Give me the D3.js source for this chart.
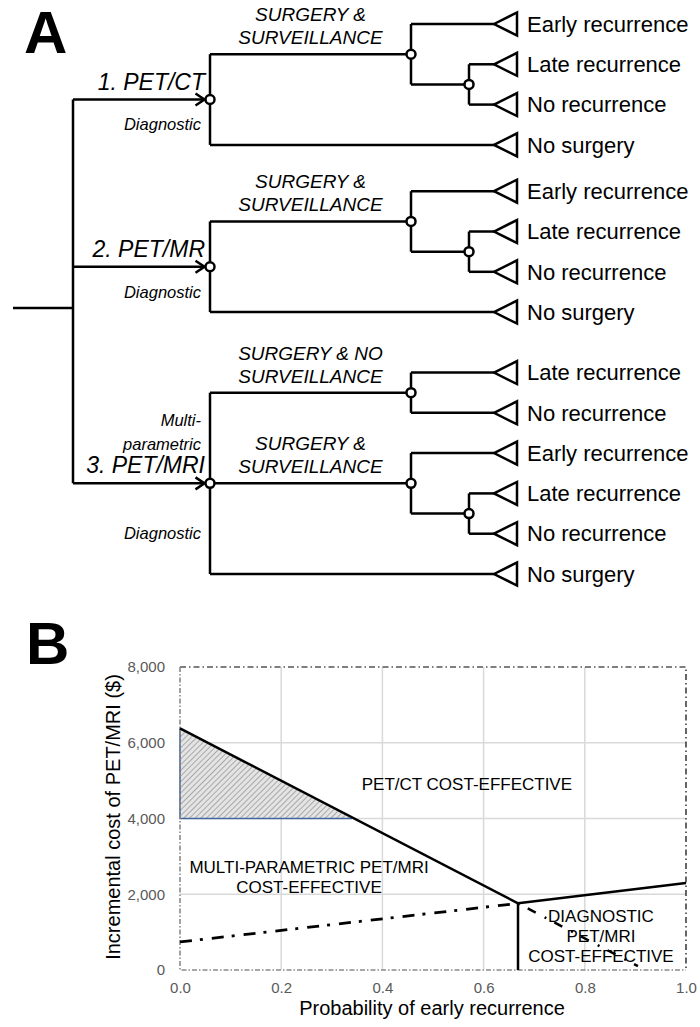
<!DOCTYPE html>
<html>
<head>
<meta charset="utf-8">
<script src="https://cdn.jsdelivr.net/npm/d3@7"></script>
<style>
  body { margin: 0; background: #fff; }
  text { font-family: "Liberation Sans", Arial, sans-serif; }
</style>
</head>
<body>
<svg id="fig" width="700" height="1027"></svg>
<script>
// ---------- panel A data ----------
const strategies = ["1. PET/CT", "2. PET/MR", "3. PET/MRI"];
const notesAbove = [[], [], ["Multi-", "parametric"]];
const notesBelow = [["Diagnostic"], ["Diagnostic"], ["Diagnostic"]];
const armLabels = [
  [["SURGERY &", "SURVEILLANCE"]],
  [["SURGERY &", "SURVEILLANCE"]],
  [["SURGERY & NO", "SURVEILLANCE"], ["SURGERY &", "SURVEILLANCE"]]
];
const armOutcomes = [
  [["Early recurrence", ["Late recurrence", "No recurrence"]]],
  [["Early recurrence", ["Late recurrence", "No recurrence"]]],
  [["Late recurrence", "No recurrence"], ["Early recurrence", ["Late recurrence", "No recurrence"]]]
];
const noSurgery = "No surgery";
// vertical slot of every terminal node, top to bottom
const leafRows = [0, 1, 2, 3, 4.15, 5.15, 6.15, 7.15, 8.65, 9.65, 10.65, 11.65, 12.65, 13.65];
const rootRow = 7.05;

// ---------- panel B data ----------
const xTicks = [0, 0.2, 0.4, 0.6, 0.8, 1.0];
const yTicks = [0, 2000, 4000, 6000, 8000];
const ctVsMulti = [[0, 6380], [0.668, 1760]];
const ctVsDiag = [[0.668, 1760], [1.0, 2300]];
const multiVsDiag = [[0.668, 1760], [0.668, 0]];
const dashDotLine = [[0, 740], [0.668, 1760]];
const dashedLine = [[0.668, 1760], [0.905, 100]];
const shaded = [[0, 6380], [0, 4000], [0.34, 4000]];
const regionText = [
  ["PET/CT COST-EFFECTIVE"],
  ["MULTI-PARAMETRIC PET/MRI", "COST-EFFECTIVE"],
  ["DIAGNOSTIC", "PET/MRI", "COST-EFFECTIVE"]
];
const regionAt = [[0.567, 4910], [0.255, 2455], [0.832, 900]];

const svg = d3.select("#fig");

// ================= A =================
svg.append("text").attr("x", 24).attr("y", 53)
  .style("font-size", "60px").style("font-weight", "bold").text("A");

function buildOutcome(o) {
  if (Array.isArray(o)) return { children: o.map(buildOutcome) };
  return { leaf: o };
}
const treeData = {
  children: strategies.map((s, i) => ({
    name: s, idx: i,
    children: armLabels[i].map((lab, j) => ({
      arm: lab,
      children: armOutcomes[i][j].map(buildOutcome)
    })).concat([{ leaf: noSurgery }])
  }))
};

const root = d3.hierarchy(treeData);
const rowY = d3.scaleLinear().domain([0, 13.65]).range([24, 574]);
const depthX = d3.scaleOrdinal().domain([0, 1, 2, 3]).range([73, 210, 411, 469]);
const tipX = 494;

root.leaves().forEach((l, i) => { l.y = rowY(leafRows[i]); });
root.eachAfter(n => {
  if (n.children) {
    n.y = (n.children[0].y + n.children[n.children.length - 1].y) / 2;
  }
  n.x = n.data.leaf ? tipX : depthX(n.depth);
});
root.y = rowY(rootRow);

const gA = svg.append("g")
  .attr("fill", "none").attr("stroke", "#000").attr("stroke-width", 2.5);

// root stub
gA.append("line").attr("x1", 13).attr("x2", root.x).attr("y1", root.y).attr("y2", root.y);

const nodeR = 4.5;
root.each(n => {
  if (!n.children) return;
  const ys = n.children.map(c => c.y);
  gA.append("line").attr("x1", n.x).attr("x2", n.x)
    .attr("y1", d3.min(ys)).attr("y2", d3.max(ys));
  n.children.forEach(c => {
    const end = c.depth === 1 ? c.x - nodeR - 1 : c.x;
    gA.append("line").attr("x1", n.x).attr("x2", end).attr("y1", c.y).attr("y2", c.y);
    if (c.depth === 1) {
      gA.append("path")
        .attr("d", `M${end - 9},${c.y - 6}L${end},${c.y}L${end - 9},${c.y + 6}`);
    }
  });
});

// chance / decision nodes
gA.selectAll("circle")
  .data(root.descendants().filter(n => n.depth > 0 && n.children))
  .join("circle")
  .attr("cx", d => d.x).attr("cy", d => d.y).attr("r", nodeR)
  .attr("fill", "#fff");

// terminal triangles
const leaves = root.leaves();
gA.selectAll("path.term")
  .data(leaves).join("path").attr("class", "term")
  .attr("fill", "#fff")
  .attr("d", d => `M${d.x},${d.y}L${d.x + 23},${d.y - 11.5}L${d.x + 23},${d.y + 11.5}Z`);

svg.selectAll("text.leaf")
  .data(leaves).join("text").attr("class", "leaf")
  .attr("x", d => d.x + 33).attr("y", d => d.y).attr("dy", "0.35em")
  .style("font-size", "22px").text(d => d.data.leaf);

// strategy labels
const strat = root.children;
strat.forEach((s, i) => {
  svg.append("text").attr("x", s.x - 5).attr("y", s.y - 10)
    .attr("text-anchor", "end").style("font-size", "23px").style("font-style", "italic")
    .text(strategies[i]);
  const top = s.children[0].y, bot = s.children[s.children.length - 1].y;
  const drawNote = (lines, cy) => {
    lines.forEach((t, k) => {
      const off = lines.length > 1 ? 0 : 6;
      svg.append("text").attr("x", s.x - 9)
        .attr("y", cy + (k - (lines.length - 1) / 2) * 24 + off)
        .attr("text-anchor", "end").style("font-size", "16.5px").style("font-style", "italic")
        .text(t);
    });
  };
  drawNote(notesAbove[i], (top + s.y) / 2);
  drawNote(notesBelow[i], s.y + 0.55 * (bot - s.y));
  s.children.filter(c => c.data.arm).forEach(c => {
    c.data.arm.forEach((t, k) => {
      svg.append("text").attr("x", (s.x + c.x) / 2).attr("y", c.y - 33 + k * 23)
        .attr("text-anchor", "middle").style("font-size", "19px").style("font-style", "italic")
        .text(t);
    });
  });
});

// ================= B =================
svg.append("text").attr("x", 26).attr("y", 664)
  .style("font-size", "60px").style("font-weight", "bold").text("B");

const x = d3.scaleLinear().domain([0, 1]).range([180, 686]);
const y = d3.scaleLinear().domain([0, 8000]).range([970, 667]);

const defs = svg.append("defs");
const pat = defs.append("pattern").attr("id", "hatch")
  .attr("patternUnits", "userSpaceOnUse").attr("width", 4).attr("height", 4)
  .attr("patternTransform", "rotate(45)");
pat.append("rect").attr("width", 4).attr("height", 4).attr("fill", "#e4e4e4");
pat.append("line").attr("x1", 0).attr("y1", 0).attr("x2", 0).attr("y2", 4)
  .attr("stroke", "#9a9a9a").attr("stroke-width", 1.6);

// grid
svg.append("g").selectAll("line")
  .data(xTicks.slice(1, -1)).join("line")
  .attr("x1", d => x(d)).attr("x2", d => x(d)).attr("y1", y(0)).attr("y2", y(8000))
  .attr("stroke", "#d9d9d9").attr("stroke-width", 1.5);
svg.append("g").selectAll("line")
  .data(yTicks.slice(1, -1)).join("line")
  .attr("x1", x(0)).attr("x2", x(1)).attr("y1", d => y(d)).attr("y2", d => y(d))
  .attr("stroke", "#d9d9d9").attr("stroke-width", 1.5);

// shaded triangle
svg.append("path").datum(shaded)
  .attr("d", d => "M" + d.map(p => [x(p[0]), y(p[1])].join(",")).join("L") + "Z")
  .attr("fill", "url(#hatch)");
svg.append("path").datum(shaded)
  .attr("d", d => "M" + d.map(p => [x(p[0]), y(p[1])].join(",")).join("L"))
  .attr("fill", "none").attr("stroke", "#44679e").attr("stroke-width", 1.6);

// plot frame
svg.append("path")
  .attr("d", `M${x(0)},${y(8000)}H${x(1)}V${y(0)}`)
  .attr("fill", "none").attr("stroke", "#000").attr("stroke-width", 1.2)
  .attr("stroke-dasharray", "6,3,1.5,3");
svg.append("path")
  .attr("d", `M${x(0)},${y(8000)}V${y(0)}H${x(1)}`)
  .attr("fill", "none").attr("stroke", "#8a8a8a").attr("stroke-width", 1.6)
  .attr("stroke-dasharray", "5,2,1.5,2");

// axes
const xAxis = svg.append("g").attr("transform", `translate(0,${y(0)})`)
  .call(d3.axisBottom(x).tickValues(xTicks).tickFormat(d3.format(".1f")).tickSize(0).tickPadding(12));
const yAxis = svg.append("g").attr("transform", `translate(${x(0)},0)`)
  .call(d3.axisLeft(y).tickValues(yTicks).tickFormat(d3.format(",")).tickSize(0).tickPadding(15));
[xAxis, yAxis].forEach(a => {
  a.select(".domain").remove();
  a.selectAll("text").attr("fill", "#595959")
    .style("font-size", "15px").style("font-family", "'Liberation Sans', Arial, sans-serif");
});

svg.append("text").attr("x", 432).attr("y", 1015).attr("text-anchor", "middle")
  .style("font-size", "20px").text("Probability of early recurrence");
svg.append("text").attr("transform", "translate(120,817) rotate(-90)")
  .attr("text-anchor", "middle").style("font-size", "20px")
  .text("Incremental cost of PET/MRI ($)");

// region labels
regionText.forEach((lines, i) => {
  const cx = x(regionAt[i][0]), cy = y(regionAt[i][1]);
  lines.forEach((t, k) => {
    svg.append("text").attr("x", cx).attr("y", cy + (k - (lines.length - 1) / 2) * 20 + 6)
      .attr("text-anchor", "middle").style("font-size", "17px").text(t);
  });
});

// threshold lines
const line = d3.line().x(d => x(d[0])).y(d => y(d[1]));
[ctVsMulti, ctVsDiag, multiVsDiag].forEach(d => {
  svg.append("path").datum(d).attr("d", line)
    .attr("fill", "none").attr("stroke", "#000").attr("stroke-width", 2.5);
});
svg.append("path").datum(dashDotLine).attr("d", line)
  .attr("fill", "none").attr("stroke", "#000").attr("stroke-width", 2.8)
  .attr("stroke-dasharray", "12,8,3,9");
svg.append("path").datum(dashedLine).attr("d", line)
  .attr("fill", "none").attr("stroke", "#000").attr("stroke-width", 2.5)
  .attr("stroke-dasharray", "2,9,9,10");
</script>
</body>
</html>
